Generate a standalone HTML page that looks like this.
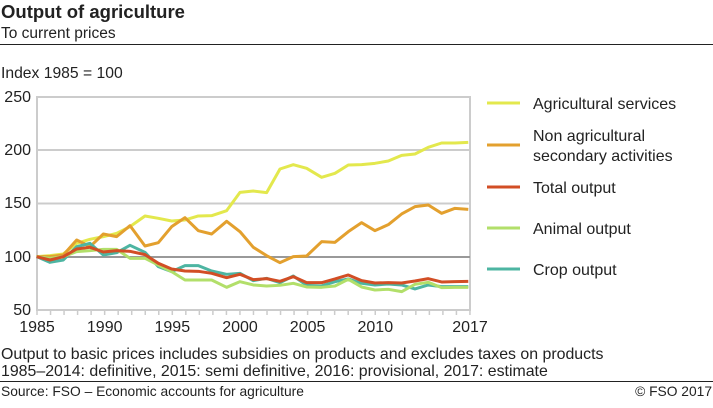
<!DOCTYPE html>
<html><head><meta charset="utf-8"><style>
body{margin:0;background:#fff;width:713px;height:403px;overflow:hidden;font-family:"Liberation Sans",sans-serif;color:#222}
</style></head><body>
<svg width="713" height="403" xmlns="http://www.w3.org/2000/svg" font-family="Liberation Sans, sans-serif" fill="#222">
<text x="1" y="18" font-size="18.5" font-weight="bold">Output of agriculture</text>
<text x="1" y="38" font-size="15.5">To current prices</text>
<line x1="0" y1="44.5" x2="713" y2="44.5" stroke="#222" stroke-width="1"/>
<text x="1" y="78" font-size="15.7">Index 1985 = 100</text>
<g stroke="#ccc" stroke-width="2">
<line x1="37" y1="97" x2="470" y2="97"/>
<line x1="37" y1="150" x2="470" y2="150"/>
<line x1="37" y1="203.5" x2="470" y2="203.5"/>
<line x1="37" y1="310" x2="470" y2="310"/>
<line x1="37" y1="96" x2="37" y2="311"/>
<line x1="470" y1="96" x2="470" y2="311"/>
</g>
<line x1="37" y1="257" x2="470" y2="257" stroke="#999" stroke-width="2"/>
<g stroke="#ccc" stroke-width="1.5" id="ticks"></g>
<g font-size="16" text-anchor="end">
<text x="31" y="102">250</text><text x="31" y="155">200</text><text x="31" y="208">150</text><text x="31" y="262">100</text><text x="31" y="315">50</text>
</g>
<g font-size="16" text-anchor="middle">
<text x="37" y="332">1985</text><text x="104.7" y="332">1990</text><text x="172.3" y="332">1995</text><text x="240" y="332">2000</text><text x="307.6" y="332">2005</text><text x="375.3" y="332">2010</text><text x="470" y="332">2017</text>
</g>
<g transform="translate(30,90) scale(0.3333)" fill="none" stroke-linejoin="round">
<polyline stroke="#e3e84d" stroke-width="9" points="20,500 60,497 100,492 140,460 180,448 220,440 260,430 300,410 345,378 385,385 425,393 465,390 505,378 545,377 590,362 630,307 670,303 710,308 750,237 790,224 830,235 875,262 915,250 955,225 995,224 1035,220 1075,213 1115,196 1155,192 1195,172 1235,159 1275,159 1315,157"/>
<polyline stroke="#e3a02e" stroke-width="9" points="20,500 60,500 100,495 140,450 180,470 220,432 260,440 300,407 345,468 385,458 425,410 465,383 505,422 545,432 590,394 630,425 670,472 710,497 750,518 790,500 830,498 875,455 915,457 955,425 995,398 1035,422 1075,404 1115,372 1155,350 1195,345 1235,370 1275,355 1315,358"/>
<polyline stroke="#4db5a2" stroke-width="9" points="20,500 60,517 100,510 140,470 180,460 220,495 260,488 300,466 345,487 385,530 425,545 465,527 505,527 545,543 590,553 630,550 670,572 710,565 750,578 790,558 830,586 875,588 915,575 955,567 995,580 1035,585 1075,582 1115,585 1155,597 1195,585 1235,590 1275,590 1315,590"/>
<polyline stroke="#b2df6a" stroke-width="9" points="20,500 60,505 100,500 140,485 180,482 220,478 260,478 300,505 345,505 385,525 425,545 465,570 505,570 545,570 590,592 630,575 670,585 710,588 750,586 790,580 830,591 875,592 915,588 955,568 995,591 1035,600 1075,598 1115,605 1155,583 1195,577 1235,593 1275,592 1315,592"/>
<polyline stroke="#d24e25" stroke-width="9" points="20,500 60,510 100,500 140,477 180,472 220,486 260,482 300,484 345,494 385,520 425,537 465,543 505,544 545,550 590,563 630,553 670,569 710,566 750,574 790,560 830,578 875,578 915,567 955,555 995,572 1035,579 1075,578 1115,579 1155,573 1195,566 1235,576 1275,575 1315,574"/>
</g>
<g stroke-width="3">
<line x1="487" y1="103" x2="520" y2="103" stroke="#e3e84d"/>
<line x1="487" y1="145" x2="520" y2="145" stroke="#e3a02e"/>
<line x1="487" y1="187" x2="520" y2="187" stroke="#d24e25"/>
<line x1="487" y1="228" x2="520" y2="228" stroke="#b2df6a"/>
<line x1="487" y1="269" x2="520" y2="269" stroke="#4db5a2"/>
</g>
<g font-size="16">
<text x="533" y="109">Agricultural services</text>
<text x="533" y="141">Non agricultural</text>
<text x="533" y="161">secondary activities</text>
<text x="533" y="193">Total output</text>
<text x="533" y="234">Animal output</text>
<text x="533" y="275">Crop output</text>
</g>
<g font-size="15.9">
<text x="1" y="359">Output to basic prices includes subsidies on products and excludes taxes on products</text>
<text x="1" y="376">1985–2014: definitive, 2015: semi definitive, 2016: provisional, 2017: estimate</text>
</g>
<line x1="0" y1="381.5" x2="713" y2="381.5" stroke="#222" stroke-width="1"/>
<text x="1" y="396" font-size="13.8">Source: FSO – Economic accounts for agriculture</text>
<text x="712" y="396" font-size="13.8" text-anchor="end">© FSO  2017</text>
</svg>
<script>
var g=document.getElementById('ticks'),s='';
for(var i=0;i<=32;i++){var x=37+i*13.53;s+='<line x1="'+x+'" y1="310" x2="'+x+'" y2="315"/>';}
g.innerHTML=s;
</script>
</body></html>
